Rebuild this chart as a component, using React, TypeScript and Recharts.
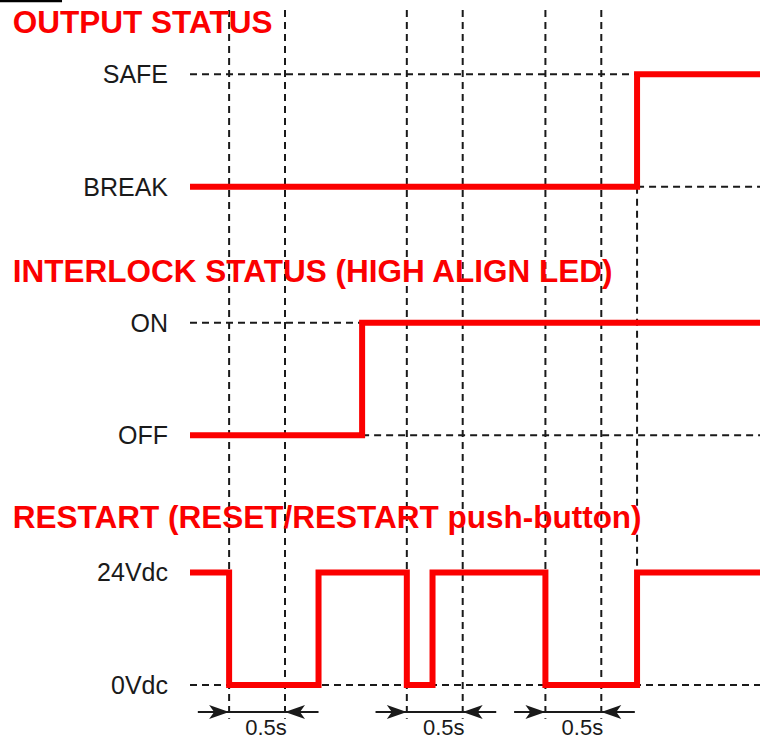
import { LineChart, Line, XAxis, YAxis, ReferenceLine, ReferenceDot } from 'recharts';

if (typeof document !== 'undefined') document.body.style.margin = '0';

// signal levels (0Vdc = 0, one step = 24V swing)
const LEVEL_NAMES = ['0Vdc', '24Vdc', 'OFF', 'ON', 'BREAK', 'SAFE'];
const LEVEL_VALUES = [0, 1, 2.22, 3.22, 4.43, 5.43];
const lvl = (name: string) => LEVEL_VALUES[LEVEL_NAMES.indexOf(name)];

// time in seconds from the left edge of the traces
const OUTPUT_TIMES = [0, 4.0, 5.1];
const OUTPUT_STATES = ['BREAK', 'SAFE', 'SAFE'];

const INTERLOCK_TIMES = [0, 1.54, 5.1];
const INTERLOCK_STATES = ['OFF', 'ON', 'ON'];

const RESTART_TIMES = [0, 0.35, 1.15, 1.94, 2.17, 3.18, 4.0, 5.1];
const RESTART_STATES = ['24Vdc', '0Vdc', '24Vdc', '0Vdc', '24Vdc', '0Vdc', '24Vdc', '24Vdc'];

// 0.5s windows after each press
const WINDOW_STARTS = [0.35, 1.94, 3.18];
const WINDOW_LABEL = '0.5s';
const WINDOW_LEN = 0.5;

const TITLES = ['OUTPUT STATUS', 'INTERLOCK STATUS (HIGH ALIGN LED)', 'RESTART (RESET/RESTART push-button)'];

const toData = (times: number[], states: string[]) => times.map((t, i) => ({ t, v: lvl(states[i]) }));
const outputData = toData(OUTPUT_TIMES, OUTPUT_STATES);
const interlockData = toData(INTERLOCK_TIMES, INTERLOCK_STATES);
const restartData = toData(RESTART_TIMES, RESTART_STATES);

// layout (data units)
const T_END = 5.1;
const Y_MIN = -0.4;
const Y_MAX = 6.0;
const GRID_BOTTOM = -0.3;
const DIM_Y = -0.24;
const TITLE_X = -1.585;
const TITLE_Y = [5.8, 3.58, 1.4];

const RED = '#fb0000';
const INK = '#1a1a1a';
const DASH = '7 5';
const FONT = '"Liberation Sans", Arial, sans-serif';

function Arrow({ cx, cy, dir }: any) {
  const len = 20;
  const half = 7;
  const base = cx - dir * len;
  return <path d={`M${cx},${cy} L${base},${cy - half} L${base + dir * 5},${cy} L${base},${cy + half} Z`} fill={INK} />;
}

export default function App() {
  return (
    <div style={{ width: 760, height: 740, background: '#fff', fontFamily: FONT }}>
      <LineChart width={760} height={740} margin={{ top: 10, right: 0, bottom: 10, left: 0 }}>
        <XAxis type="number" dataKey="t" domain={[0, T_END]} hide allowDataOverflow />
        <YAxis
          type="number"
          domain={[Y_MIN, Y_MAX]}
          ticks={LEVEL_VALUES}
          interval={0}
          width={190}
          axisLine={false}
          tickLine={false}
          tickMargin={16}
          tickFormatter={(v: number) => LEVEL_NAMES[LEVEL_VALUES.indexOf(v)]}
          tick={{ fill: INK, fontSize: 25, fontFamily: FONT }}
        />

        {/* level guides */}
        <ReferenceLine segment={[{ x: 0, y: lvl('SAFE') }, { x: 4.0, y: lvl('SAFE') }]} stroke={INK} strokeWidth={2} strokeDasharray={DASH} />
        <ReferenceLine segment={[{ x: 4.0, y: lvl('BREAK') }, { x: T_END, y: lvl('BREAK') }]} stroke={INK} strokeWidth={2} strokeDasharray={DASH} />
        <ReferenceLine segment={[{ x: 0, y: lvl('ON') }, { x: 1.54, y: lvl('ON') }]} stroke={INK} strokeWidth={2} strokeDasharray={DASH} />
        <ReferenceLine segment={[{ x: 1.54, y: lvl('OFF') }, { x: T_END, y: lvl('OFF') }]} stroke={INK} strokeWidth={2} strokeDasharray={DASH} />
        <ReferenceLine segment={[{ x: 0, y: lvl('0Vdc') }, { x: T_END, y: lvl('0Vdc') }]} stroke={INK} strokeWidth={2} strokeDasharray={DASH} />

        {/* timing guides */}
        {WINDOW_STARTS.flatMap((s) => [s, s + WINDOW_LEN]).map((t) => (
          <ReferenceLine key={`g-${t}`} segment={[{ x: t, y: Y_MAX }, { x: t, y: GRID_BOTTOM }]} stroke={INK} strokeWidth={2} strokeDasharray={DASH} ifOverflow="visible" />
        ))}
        <ReferenceLine segment={[{ x: 4.0, y: lvl('BREAK') }, { x: 4.0, y: lvl('24Vdc') }]} stroke={INK} strokeWidth={2} strokeDasharray={DASH} />

        {/* dimension arrows */}
        {WINDOW_STARTS.map((s) => (
          <ReferenceLine key={`d-${s}`} segment={[{ x: s - 0.28, y: DIM_Y }, { x: s + WINDOW_LEN + 0.3, y: DIM_Y }]} stroke={INK} strokeWidth={1.8} ifOverflow="visible" />
        ))}
        {WINDOW_STARTS.map((s) => (
          <ReferenceDot key={`al-${s}`} x={s} y={DIM_Y} r={0} ifOverflow="visible" shape={(p: any) => <Arrow cx={p.cx} cy={p.cy} dir={1} />} />
        ))}
        {WINDOW_STARTS.map((s) => (
          <ReferenceDot key={`ar-${s}`} x={s + WINDOW_LEN} y={DIM_Y} r={0} ifOverflow="visible" shape={(p: any) => <Arrow cx={p.cx} cy={p.cy} dir={-1} />} />
        ))}
        {WINDOW_STARTS.map((s) => (
          <ReferenceDot
            key={`lbl-${s}`}
            x={s + WINDOW_LEN / 2}
            y={DIM_Y}
            r={0}
            ifOverflow="visible"
            shape={(p: any) => (
              <text x={p.cx + 9} y={p.cy + 23} textAnchor="middle" fontSize={22} fill={INK} fontFamily={FONT}>
                {WINDOW_LABEL}
              </text>
            )}
          />
        ))}

        {/* section titles */}
        {TITLES.map((title, i) => (
          <ReferenceDot
            key={title}
            x={TITLE_X}
            y={TITLE_Y[i]}
            r={0}
            ifOverflow="visible"
            shape={(p: any) => (
              <text x={p.cx} y={p.cy} fontSize={31.5} fontWeight="bold" fill={RED} fontFamily={FONT}>
                {title}
              </text>
            )}
          />
        ))}
        <ReferenceLine segment={[{ x: -1.7, y: 6.08 }, { x: -1.145, y: 6.08 }]} stroke="#000" strokeWidth={2.5} ifOverflow="visible" />

        <Line data={outputData} dataKey="v" type="stepAfter" stroke={RED} strokeWidth={6} dot={false} activeDot={false} isAnimationActive={false} />
        <Line data={interlockData} dataKey="v" type="stepAfter" stroke={RED} strokeWidth={6} dot={false} activeDot={false} isAnimationActive={false} />
        <Line data={restartData} dataKey="v" type="stepAfter" stroke={RED} strokeWidth={6} dot={false} activeDot={false} isAnimationActive={false} />
      </LineChart>
    </div>
  );
}
